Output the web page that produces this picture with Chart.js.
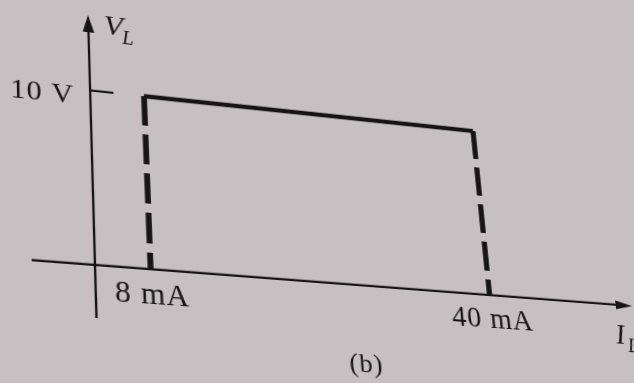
<!DOCTYPE html>
<html>
<head>
<meta charset="utf-8">
<script src="https://cdn.jsdelivr.net/npm/chart.js@4.4.1/dist/chart.umd.min.js"></script>
<style>
  html, body { margin: 0; padding: 0; width: 634px; height: 383px; overflow: hidden; background: #c6c0c2; }
  #plot { position: absolute; left: 0; top: 0; transform-origin: 0 0; }
</style>
</head>
<body>
<canvas id="plot" width="700" height="420"></canvas>
<script>
// Load voltage V_L against load current I_L for the zener regulator
const loadCurrent = [8, 40];     // mA, I_Lmin and I_Lmax
const loadVoltage = [10, 10];    // V, regulated output
const xTickValues = [8, 40];
const xTickLabels = ['8 mA', '40 mA'];
const yTickValues = [10];
const yTickLabels = ['10 V'];

// axis ranges (the vertical axis sits at X_MIN, the horizontal at 0 V)
const X_MIN = 3.1, X_MAX = 54.66;
const Y_MIN = -2.91, Y_MAX = 14.53;

const INK = '#161414';
const SERIF = "'Liberation Serif', 'DejaVu Serif', serif";

// The printed page is slightly tilted and seen in perspective:
// these data points land at the given page positions.
const pagePins = [
  { x: X_MIN, y: 0,     at: [95, 265] },
  { x: X_MAX, y: 0,     at: [632, 306] },
  { x: X_MIN, y: Y_MAX, at: [88, 15] },
  { x: 40,    y: 10,    at: [473, 131] }
];

function homography(src, dst) {
  const A = [], b = [];
  for (let i = 0; i < 4; i++) {
    const [x, y] = src[i], [X, Y] = dst[i];
    A.push([x, y, 1, 0, 0, 0, -X * x, -X * y]); b.push(X);
    A.push([0, 0, 0, x, y, 1, -Y * x, -Y * y]); b.push(Y);
  }
  const n = 8;
  for (let c = 0; c < n; c++) {
    let p = c;
    for (let r = c + 1; r < n; r++) if (Math.abs(A[r][c]) > Math.abs(A[p][c])) p = r;
    [A[c], A[p]] = [A[p], A[c]]; [b[c], b[p]] = [b[p], b[c]];
    for (let r = 0; r < n; r++) {
      if (r === c) continue;
      const f = A[r][c] / A[c][c];
      for (let k = c; k < n; k++) A[r][k] -= f * A[c][k];
      b[r] -= f * b[c];
    }
  }
  return b.map((v, i) => v / A[i][i]);
}

function arrowHead(ctx, tipX, tipY, dx, dy, len, half) {
  const bx = tipX - dx * len, by = tipY - dy * len;
  ctx.beginPath();
  ctx.moveTo(tipX, tipY);
  ctx.lineTo(bx - dy * half, by + dx * half);
  ctx.lineTo(bx + dy * half, by - dx * half);
  ctx.closePath();
  ctx.fill();
}

const axesAndLabels = {
  id: 'axesAndLabels',
  beforeDatasetsDraw(chart) {
    const { ctx, scales: { x: xs, y: ys } } = chart;
    const ax = xs.getPixelForValue(X_MIN);
    const ay = ys.getPixelForValue(0);
    ctx.save();
    ctx.strokeStyle = INK;
    ctx.fillStyle = INK;
    ctx.lineWidth = 2.2;
    ctx.lineCap = 'butt';

    // horizontal axis, starting a little left of the vertical one
    ctx.beginPath();
    ctx.moveTo(38, ay);
    ctx.lineTo(xs.right - 10, ay);
    ctx.stroke();
    arrowHead(ctx, xs.right, ay, 1, 0, 18, 4.5);

    // vertical axis, reaching a little below the horizontal one
    ctx.beginPath();
    ctx.moveTo(ax, ys.bottom);
    ctx.lineTo(ax, ys.top + 10);
    ctx.stroke();
    arrowHead(ctx, ax, ys.top, 0, -1, 18, 5.5);

    // tick marks on the voltage axis
    yTickValues.forEach(v => {
      const py = ys.getPixelForValue(v);
      ctx.beginPath();
      ctx.moveTo(ax, py);
      ctx.lineTo(ax + 22, py);
      ctx.stroke();
    });

    // tick labels
    ctx.font = '28px ' + SERIF;
    ctx.letterSpacing = '1px';
    ctx.textBaseline = 'middle';
    ctx.textAlign = 'right';
    yTickValues.forEach((v, i) => {
      ctx.fillText(yTickLabels[i], ax - 15, ys.getPixelForValue(v) + 8);
    });
    ctx.font = '29px ' + SERIF;
    ctx.textAlign = 'center';
    xTickValues.forEach((v, i) => {
      ctx.fillText(xTickLabels[i], xs.getPixelForValue(v) + 1, ay + 25);
    });
    ctx.letterSpacing = '0px';

    // axis titles: V_L and I_L
    ctx.textAlign = 'left';
    ctx.textBaseline = 'alphabetic';
    ctx.font = 'italic 30px ' + SERIF;
    ctx.fillText('V', ax + 15, ys.top + 18);
    ctx.font = 'italic 20px ' + SERIF;
    ctx.fillText('L', ax + 32, ys.top + 26);
    ctx.font = 'italic 30px ' + SERIF;
    ctx.fillText('I', xs.right - 22, ay + 40);
    ctx.font = 'italic 20px ' + SERIF;
    ctx.fillText('L', xs.right - 10, ay + 48);

    // panel caption
    ctx.font = '26px ' + SERIF;
    ctx.letterSpacing = '1px';
    ctx.textAlign = 'center';
    ctx.textBaseline = 'middle';
    ctx.fillText('(b)', 348, 343);
    ctx.restore();
  }
};

const solid = { borderColor: INK, pointRadius: 0, tension: 0, borderCapStyle: 'butt', borderJoinStyle: 'miter' };

const chart = new Chart(document.getElementById('plot'), {
  type: 'line',
  data: {
    datasets: [
      // regulated output across the load-current range
      Object.assign({
        data: loadCurrent.map((x, i) => ({ x, y: loadVoltage[i] })),
        borderWidth: 4.5
      }, solid),
      // dashed drops from each end of the range down to the current axis
      ...loadCurrent.map((x, i) => Object.assign({
        data: [{ x, y: loadVoltage[i] }, { x, y: 0 }],
        borderWidth: 5.5,
        borderDash: [30, 9]
      }, solid))
    ]
  },
  options: {
    responsive: false,
    animation: false,
    devicePixelRatio: 1,
    layout: { padding: { left: 95, right: 67, top: 15, bottom: 105 } },
    scales: {
      x: { type: 'linear', min: X_MIN, max: X_MAX, display: false },
      y: { type: 'linear', min: Y_MIN, max: Y_MAX, display: false }
    },
    plugins: { legend: { display: false }, tooltip: { enabled: false } }
  },
  plugins: [axesAndLabels]
});

// tilt the drawn page into place
const xs = chart.scales.x, ys = chart.scales.y;
const src = pagePins.map(p => [xs.getPixelForValue(p.x), ys.getPixelForValue(p.y)]);
const dst = pagePins.map(p => p.at);
const h = homography(src, dst);
document.getElementById('plot').style.transform =
  `matrix3d(${h[0]},${h[3]},0,${h[6]},${h[1]},${h[4]},0,${h[7]},0,0,1,0,${h[2]},${h[5]},0,1)`;
</script>
</body>
</html>
